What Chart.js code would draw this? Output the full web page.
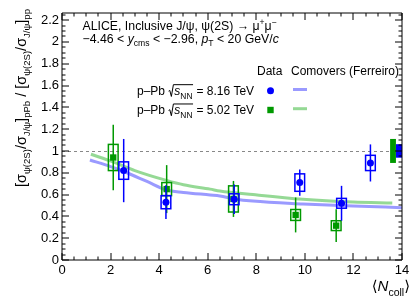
<!DOCTYPE html>
<html><head><meta charset="utf-8">
<script src="https://cdn.jsdelivr.net/npm/chart.js@4/dist/chart.umd.min.js"></script>
<style>html,body{margin:0;padding:0;background:#fff;}#wrap{width:415px;height:300px;position:relative}</style>
</head><body><div id="wrap"><canvas id="c" width="415" height="300"></canvas></div>
<script>
// ---- data ----
const xTickValues = [0, 2, 4, 6, 8, 10, 12, 14];
const yTickValues = [0, 0.2, 0.4, 0.6, 0.8, 1, 1.2, 1.4, 1.6, 1.8, 2, 2.2];
// p-Pb 8.16 TeV data
const blueX    = [2.54, 4.28, 7.09, 9.79, 11.51, 12.70];
const blueY    = [0.82, 0.53, 0.557, 0.71, 0.52, 0.89];
const blueStat = [0.29, 0.155, 0.135, 0.12, 0.16, 0.17];
const blueSys  = [0.08, 0.06, 0.05, 0.08, 0.045, 0.07];
// p-Pb 5.02 TeV data
const greenX    = [2.11, 4.31, 7.06, 9.62, 11.29];
const greenY    = [0.94, 0.65, 0.56, 0.413, 0.315];
const greenStat = [0.30, 0.22, 0.165, 0.16, 0.15];
const greenSys  = [0.12, 0.06, 0.12, 0.05, 0.045];
// global (correlated) uncertainties around unity
const globalCenter = [1.0, 1.0];      // [8.16, 5.02]
const globalErr    = [0.062, 0.11];   // [8.16, 5.02]
// Comovers (Ferreiro)
const comoBlueX = [1.15, 2.0, 2.5, 3.5, 4.3, 5.0, 6.1, 6.5, 7.1, 7.86, 9.92, 11.98, 14.0];
const comoBlueY = [0.917, 0.856, 0.816, 0.72, 0.642, 0.62, 0.596, 0.587, 0.56, 0.54, 0.514, 0.495, 0.48];
const comoGreenX = [1.19, 2.1, 3.0, 4.3, 5.0, 6.1, 6.5, 7.86, 9.92, 11.98, 13.6];
const comoGreenY = [0.97, 0.90, 0.82, 0.73, 0.69, 0.65, 0.633, 0.60, 0.557, 0.532, 0.523];
const refLine = 1.0;

// ---- style ----
const FONT = '"Liberation Sans", Arial, Helvetica, "DejaVu Sans", sans-serif';
const BLUE = '#0000ff';
const GREEN = '#009900';
const LBLUE = 'rgba(120,120,255,0.75)';
const LGREEN = 'rgba(130,210,130,0.85)';

function segFont(g, size, sr) {
  const s = g.s ? size * sr : size;
  return (g.i ? 'italic ' : '') + s + 'px ' + FONT;
}
function measureRich(ctx, segs, size, sr) {
  sr = sr || 0.7;
  let w = 0;
  for (const g of segs) {
    if (g.sqrt) { w += size * 0.5 + measureRich(ctx, g.inner, size, sr) + size * 0.05; continue; }
    ctx.font = segFont(g, size, sr);
    w += ctx.measureText(g.t).width;
  }
  return w;
}
function drawRich(ctx, segs, x, y, size, align, color, sr) {
  sr = sr || 0.7;
  ctx.save();
  ctx.fillStyle = color || '#000';
  ctx.strokeStyle = color || '#000';
  ctx.textBaseline = 'alphabetic';
  ctx.textAlign = 'left';
  const w = measureRich(ctx, segs, size, sr);
  let cx = align === 'right' ? x - w : align === 'center' ? x - w / 2 : x;
  for (const g of segs) {
    if (g.sqrt) {
      const rw = size * 0.5;
      ctx.lineWidth = 1;
      ctx.beginPath();
      ctx.moveTo(cx + size * 0.02, y - size * 0.32);
      ctx.lineTo(cx + size * 0.12, y - size * 0.38);
      ctx.lineTo(cx + size * 0.25, y + size * 0.12);
      ctx.lineTo(cx + size * 0.42, y - size * 0.86);
      const innerW = measureRich(ctx, g.inner, size, sr);
      ctx.lineTo(cx + rw + innerW + size * 0.05, y - size * 0.86);
      ctx.stroke();
      drawRich(ctx, g.inner, cx + rw, y, size, 'left', color, sr);
      cx += rw + innerW + size * 0.05;
      continue;
    }
    ctx.font = segFont(g, size, sr);
    const dy = g.s === 'sub' ? size * 0.3 : g.s === 'sup' ? -size * 0.4 : 0;
    ctx.fillText(g.t, cx, y + dy);
    cx += ctx.measureText(g.t).width;
  }
  ctx.restore();
}

const rootPlugin = {
  id: 'rootStyle',
  beforeDatasetsDraw(chart) {
    const { ctx, chartArea: a, scales: { x, y } } = chart;
    ctx.save();
    ctx.strokeStyle = '#888';
    ctx.lineWidth = 1;
    ctx.setLineDash([3, 3]);
    const py = Math.round(y.getPixelForValue(refLine)) + 0.5;
    ctx.beginPath(); ctx.moveTo(a.left, py); ctx.lineTo(a.right, py); ctx.stroke();
    ctx.restore();
  },
  beforeDatasetDraw(chart, args) {
    const ds = chart.data.datasets[args.index];
    if (!ds.errs) return;
    const { ctx, scales: { x, y } } = chart;
    const e = ds.errs;
    ctx.save();
    ctx.strokeStyle = ds.backgroundColor;
    for (let i = 0; i < e.x.length; i++) {
      const px = x.getPixelForValue(e.x[i]);
      const bx0 = x.getPixelForValue(e.x[i] - 0.2), bx1 = x.getPixelForValue(e.x[i] + 0.2);
      const by0 = y.getPixelForValue(e.y[i] + e.sys[i]), by1 = y.getPixelForValue(e.y[i] - e.sys[i]);
      ctx.lineWidth = 1.5;
      ctx.strokeRect(bx0, by0, bx1 - bx0, by1 - by0);
      ctx.lineWidth = 1.5;
      ctx.beginPath();
      ctx.moveTo(px, y.getPixelForValue(e.y[i] + e.stat[i]));
      ctx.lineTo(px, y.getPixelForValue(e.y[i] - e.stat[i]));
      ctx.stroke();
    }
    ctx.restore();
  },
  afterDatasetsDraw(chart) {
    const { ctx, scales: { x, y } } = chart;
    ctx.save();
    const gx = [[13.75, 14.0], [13.51, 13.75]];
    const gc = [BLUE, GREEN];
    for (let k = 0; k < 2; k++) {
      const x0 = x.getPixelForValue(gx[k][0]), x1 = x.getPixelForValue(gx[k][1]);
      const y0 = y.getPixelForValue(globalCenter[k] + globalErr[k]), y1 = y.getPixelForValue(globalCenter[k] - globalErr[k]);
      ctx.fillStyle = gc[k];
      ctx.fillRect(x0, y0, x1 - x0, y1 - y0);
    }
    ctx.restore();
  },
  afterDraw(chart) {
    const { ctx, chartArea: a, scales: { x, y } } = chart;
    ctx.save();
    ctx.strokeStyle = '#000';
    ctx.lineWidth = 1;
    const L = Math.round(a.left), R = Math.round(a.right), T = Math.round(a.top), B = Math.round(a.bottom);
    ctx.beginPath();
    ctx.moveTo(L, T); ctx.lineTo(R, T); ctx.lineTo(R, B); ctx.lineTo(L, B); ctx.closePath();
    ctx.stroke();
    ctx.beginPath();
    for (let v = 0; v <= 14.0001; v += 0.5) {
      const px = Math.round(x.getPixelForValue(v));
      const major = Math.abs(v / 2 - Math.round(v / 2)) < 1e-6;
      const len = major ? 7 : 3.5;
      ctx.moveTo(px, B); ctx.lineTo(px, B - len);
      ctx.moveTo(px, T); ctx.lineTo(px, T + len);
    }
    for (let v = 0; v <= 2.2651; v += 0.05) {
      const py = Math.round(y.getPixelForValue(v));
      const major = Math.abs(v / 0.2 - Math.round(v / 0.2)) < 1e-6;
      const len = major ? 7 : 3.5;
      ctx.moveTo(L, py); ctx.lineTo(L + len, py);
      ctx.moveTo(R, py); ctx.lineTo(R - len, py);
    }
    ctx.stroke();
    ctx.restore();

    const hs = 12.3;
    drawRich(ctx, [{t:'ALICE, Inclusive J/ψ, ψ(2S) → μ'},{t:'+',s:'sup'},{t:'μ'},{t:'−',s:'sup'}], a.left + 20.5, 30, hs, 'left');
    drawRich(ctx, [{t:'−4.46 < '},{t:'y',i:true},{t:'cms',s:'sub'},{t:' < −2.96, '},{t:'p',i:true},{t:'T',s:'sub'},{t:' < 20 GeV/'},{t:'c',i:true}], a.left + 20.5, 42.7, hs, 'left');
    const ls = 12;
    drawRich(ctx, [{t:'Data'}], 257, 75, ls, 'left');
    drawRich(ctx, [{t:'Comovers (Ferreiro)'}], 291, 75, ls, 'left');
    drawRich(ctx, [{t:'p–Pb '},{sqrt:true, inner:[{t:'s',i:true},{t:'NN',s:'sub'}]},{t:' = 8.16 TeV'}], 137, 95, ls, 'left');
    drawRich(ctx, [{t:'p–Pb '},{sqrt:true, inner:[{t:'s',i:true},{t:'NN',s:'sub'}]},{t:' = 5.02 TeV'}], 137, 114.3, ls, 'left');
    ctx.save();
    ctx.fillStyle = BLUE;
    ctx.beginPath(); ctx.arc(270.5, 90.7, 3.5, 0, Math.PI * 2); ctx.fill();
    ctx.fillStyle = GREEN;
    ctx.fillRect(267.3, 106.8, 6.4, 6.4);
    ctx.lineWidth = 3;
    ctx.strokeStyle = LBLUE;
    ctx.beginPath(); ctx.moveTo(293, 89.5); ctx.lineTo(307, 89.5); ctx.stroke();
    ctx.strokeStyle = LGREEN;
    ctx.beginPath(); ctx.moveTo(293, 108.7); ctx.lineTo(307, 108.7); ctx.stroke();
    ctx.restore();

    drawRich(ctx, [{t:'⟨'},{t:'N',i:true},{t:'coll',s:'sub'},{t:'⟩'}], 410, 291, 15, 'right');
    ctx.save();
    ctx.translate(26, 9);
    ctx.rotate(-Math.PI / 2);
    drawRich(ctx, [{t:'['},{t:'σ'},{t:'ψ(2S)',s:'sub'},{t:'/σ'},{t:'J/ψ',s:'sub'},{t:']'},{t:'pPb',s:'sub'},
                   {t:' / ['},{t:'σ'},{t:'ψ(2S)',s:'sub'},{t:'/σ'},{t:'J/ψ',s:'sub'},{t:']'},{t:'pp',s:'sub'}], 0, 0, 14.5, 'right', '#000', 0.66);
    ctx.restore();
  }
};

const pts = (xs, ys) => xs.map((v, i) => ({ x: v, y: ys[i] }));

new Chart(document.getElementById('c').getContext('2d'), {
  type: 'scatter',
  data: {
    datasets: [
      { label: 'Comovers 8.16', type: 'line', data: pts(comoBlueX, comoBlueY), borderColor: LBLUE, borderWidth: 3,
        pointRadius: 0, showLine: true, fill: false, cubicInterpolationMode: 'monotone', order: 10 },
      { label: 'Comovers 5.02', type: 'line', data: pts(comoGreenX, comoGreenY), borderColor: LGREEN, borderWidth: 3,
        pointRadius: 0, showLine: true, fill: false, cubicInterpolationMode: 'monotone', order: 9 },
      { label: 'p-Pb 5.02 TeV', data: pts(greenX, greenY), pointStyle: 'rect', pointRadius: 4.5, backgroundColor: GREEN,
        borderWidth: 0, order: 2, errs: { x: greenX, y: greenY, stat: greenStat, sys: greenSys } },
      { label: 'p-Pb 8.16 TeV', data: pts(blueX, blueY), pointStyle: 'circle', pointRadius: 3.5, backgroundColor: BLUE,
        borderWidth: 0, order: 1, errs: { x: blueX, y: blueY, stat: blueStat, sys: blueSys } }
    ]
  },
  options: {
    responsive: false, animation: false, events: [],
    layout: { padding: { left: 0, right: 13, top: 13, bottom: 0 } },
    plugins: { legend: { display: false }, tooltip: { enabled: false } },
    scales: {
      x: {
        type: 'linear', min: 0, max: 14,
        grid: { display: false, drawTicks: false }, border: { display: false },
        ticks: { stepSize: 2, padding: 3, color: '#000', font: { family: FONT, size: 13 }, maxRotation: 0, autoSkip: false,
                 callback: v => String(v) },
        afterBuildTicks(s) { s.ticks = xTickValues.map(v => ({ value: v })); },
        afterFit(s) { s.height = 40; }
      },
      y: {
        type: 'linear', min: 0, max: 2.265,
        grid: { display: false, drawTicks: false }, border: { display: false },
        ticks: { padding: 3, color: '#000', font: { family: FONT, size: 13 }, autoSkip: false,
                 callback: v => String(Number(v.toFixed(1))) },
        afterBuildTicks(s) { s.ticks = yTickValues.map(v => ({ value: v })); },
        afterFit(s) { s.width = 62; }
      }
    }
  },
  plugins: [rootPlugin]
});
</script>
</body></html>
